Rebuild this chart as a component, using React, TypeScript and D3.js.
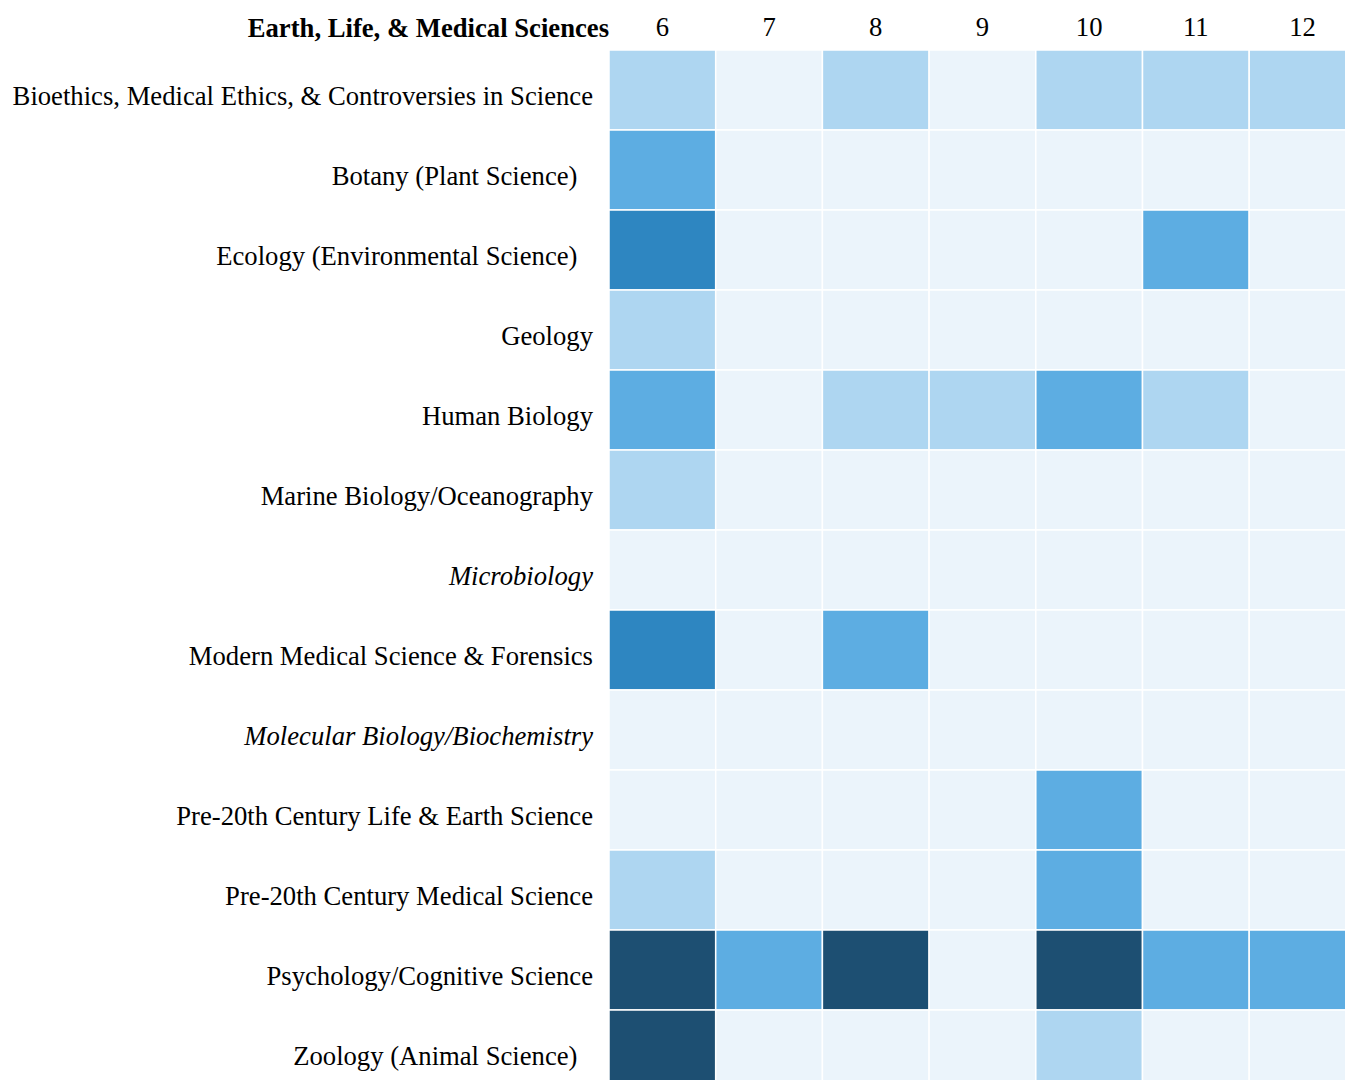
import React, { useRef, useEffect } from 'react';
import * as d3 from 'd3';

const grades = ['6', '7', '8', '9', '10', '11', '12'];

const subjects = [
    'Bioethics, Medical Ethics, & Controversies in Science',
    'Botany (Plant Science)\u2002\u200a',
    'Ecology (Environmental Science)\u2002\u200a',
    'Geology',
    'Human Biology',
    'Marine Biology/Oceanography',
    'Microbiology',
    'Modern Medical Science & Forensics',
    'Molecular Biology/Biochemistry',
    'Pre-20th Century Life & Earth Science',
    'Pre-20th Century Medical Science',
    'Psychology/Cognitive Science',
    'Zoology (Animal Science)\u2002\u200a',
];

const italicSubjects = ['Microbiology', 'Molecular Biology/Biochemistry'];

// one row per subject, one value per grade
const counts = [
    [1, 0, 1, 0, 1, 1, 1],
    [2, 0, 0, 0, 0, 0, 0],
    [3, 0, 0, 0, 0, 2, 0],
    [1, 0, 0, 0, 0, 0, 0],
    [2, 0, 1, 1, 2, 1, 0],
    [1, 0, 0, 0, 0, 0, 0],
    [0, 0, 0, 0, 0, 0, 0],
    [3, 0, 2, 0, 0, 0, 0],
    [0, 0, 0, 0, 0, 0, 0],
    [0, 0, 0, 0, 2, 0, 0],
    [1, 0, 0, 0, 2, 0, 0],
    [4, 2, 4, 0, 4, 2, 2],
    [4, 0, 0, 0, 1, 0, 0],
];

const palette = ['#ebf4fb', '#aed6f1', '#5dade2', '#2e86c1', '#1d4f72'];

const title = 'Earth, Life, & Medical Sciences';

export default function App() {
    const svgRef = useRef<SVGSVGElement>(null);

    useEffect(() => {
        const svg = d3.select(svgRef.current);
        svg.selectAll('*').remove();

        const left = 609;
        const top = 50;
        const cellW = 106.7;
        const cellH = 80;

        const x = d3.scaleBand()
            .domain(grades)
            .range([left, left + cellW * grades.length]);

        const y = d3.scaleBand()
            .domain(subjects)
            .range([top, top + cellH * subjects.length]);

        const color = d3.scaleOrdinal<number, string>()
            .domain([0, 1, 2, 3, 4])
            .range(palette);

        const cells = subjects.flatMap((s, i) =>
            grades.map((g, j) => ({ s, g, v: counts[i][j] })));

        svg.append('g')
            .selectAll('rect')
            .data(cells)
            .join('rect')
            .attr('x', d => x(d.g)!)
            .attr('y', d => y(d.s)!)
            .attr('width', x.bandwidth())
            .attr('height', y.bandwidth())
            .attr('fill', d => color(d.v))
            .attr('stroke', '#fff')
            .attr('stroke-width', 1.5);

        svg.append('g')
            .selectAll('text')
            .data(grades)
            .join('text')
            .attr('x', d => x(d)! + x.bandwidth() / 2)
            .attr('y', 36)
            .attr('text-anchor', 'middle')
            .text(d => d);

        svg.append('g')
            .selectAll('text')
            .data(subjects)
            .join('text')
            .attr('x', left - 16)
            .attr('y', d => y(d)! + y.bandwidth() / 2 + 15)
            .attr('text-anchor', 'end')
            .attr('font-style', d => italicSubjects.includes(d) ? 'italic' : 'normal')
            .style('white-space', 'pre')
            .text(d => d);

        svg.append('text')
            .attr('x', left)
            .attr('y', 37)
            .attr('text-anchor', 'end')
            .attr('font-weight', 'bold')
            .text(title);
    }, []);

    return (
        <div style={{ position: 'fixed', left: 0, top: 0, width: 1345, height: 1080, overflow: 'hidden', background: '#fff' }}>
            <svg ref={svgRef} width={1345} height={1080}
                style={{ fontFamily: '"Liberation Serif", "Times New Roman", Times, serif', fontSize: 26.67, display: 'block' }} />
        </div>
    );
}
